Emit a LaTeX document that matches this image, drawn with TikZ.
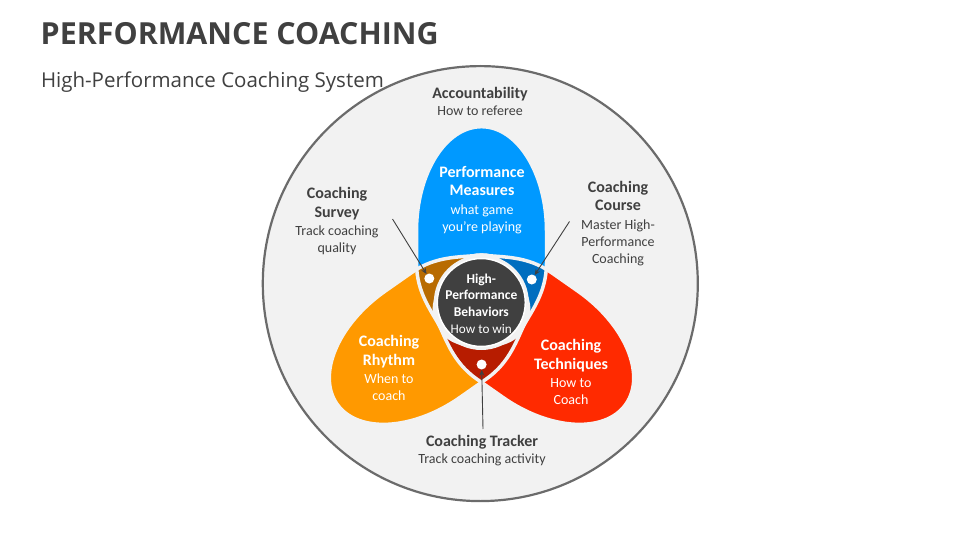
\documentclass[tikz,border=0pt]{standalone}
\usepackage{fontspec}
\setmainfont{Carlito}
\newfontfamily\osans{Open Sans}
\usetikzlibrary{arrows.meta}
\definecolor{bgc}{HTML}{F2F2F2}
\definecolor{ringc}{HTML}{6B6B6B}
\definecolor{txt}{HTML}{404040}
\definecolor{pblue}{HTML}{0099FF}
\definecolor{porange}{HTML}{FF9900}
\definecolor{pred}{HTML}{FF2A00}
\definecolor{obrown}{HTML}{B86B00}
\definecolor{oblue}{HTML}{006EBF}
\definecolor{ored}{HTML}{B71C00}
\definecolor{corec}{HTML}{404040}
\newcommand\hdf{\fontsize{16}{18.5}\selectfont\bfseries}
\newcommand\hdc{\fontsize{13.5}{16.7}\selectfont\bfseries}
\tikzset{
  petal/.style={insert path={(0,-43) .. controls (18,-43) and (33,-38) .. (39,-28)
     .. controls (50,-8) and (65,10) .. (65,40) -- (65,72)
     arc[start angle=0,end angle=180,x radius=65,y radius=104.3] -- (-65,40)
     .. controls (-65,10) and (-50,-8) .. (-39,-28)
     .. controls (-33,-38) and (-18,-43) .. (0,-43) -- cycle}},
  pb/.style={shift={(481.5,-303)}},
  po/.style={shift={(481.5,-303)},rotate=125},
  pr/.style={shift={(481.5,-303)},rotate=-125},
  gap/.style={draw=bgc,line width=3.5pt},
  lbl/.style={align=center,text=txt,inner sep=0pt,font=\fontsize{14}{17}\selectfont},
  wlbl/.style={align=center,text=white,inner sep=0pt,font=\fontsize{14}{17}\selectfont},
  dotn/.style={circle,fill=white,inner sep=0pt,minimum size=10pt},
  arr/.style={draw=txt,line width=0.9pt,-{Stealth[length=6pt,width=5pt]}}
}
\begin{document}
\begin{tikzpicture}[x=1pt,y=1pt]
\useasboundingbox (0,0) rectangle (960,-540);
\fill[white] (0,0) rectangle (960,-540);
% titles
\node[anchor=base west,inner sep=0pt,text=txt,font=\osans\fontsize{30.4}{36}\selectfont\bfseries] (title) at (40.5,-44.3) {PERFORMANCE COACHING};
\node[anchor=base west,inner sep=0pt,text=txt,font=\osans\fontsize{20.5}{24}\selectfont] (subtitle) at (40.8,-87.3) {High-Performance Coaching System};
% outer circle
\draw[ringc,fill=bgc,line width=2.2pt] (480.3,-283.6) circle (217.5);
% petals
\fill[pb,pblue,petal];
\fill[po,porange,petal];
\fill[pr,pred,petal];
\begin{scope}\clip[pb,petal]; \fill[po,obrown,petal]; \end{scope}
\begin{scope}\clip[pb,petal]; \fill[pr,oblue,petal]; \end{scope}
\begin{scope}\clip[po,petal]; \fill[pr,ored,petal]; \end{scope}
\begin{scope}\clip[pb,petal]; \clip[po,petal]; \fill[pr,bgc,petal]; \end{scope}
\path[pb,gap,petal];
\path[po,gap,petal];
\path[pr,gap,petal];
\fill[bgc] (481.3,-302.5) circle (47.5);
% core
\node[circle,fill=corec,draw=white,line width=1.5pt,minimum size=88pt,inner sep=0pt] (core) at (481.3,-302.5) {};
\node[align=center,text=white,inner sep=0pt,font=\fontsize{13.2}{16.7}\selectfont] (coretxt) at (481.3,-303.5)
      {{\hdc High-}\\{\hdc Performance}\\{\hdc Behaviors}\\How to win};
% petal texts
\node[wlbl] (pm) at (482,-200) {{\hdf Performance}\\[1.5pt]{\hdf Measures}\\[1.5pt]what game\\you’re playing};
\node[wlbl] (rh) at (389,-368) {{\hdf Coaching}\\[1.5pt]{\hdf Rhythm}\\[1.5pt]When to\\coach};
\node[wlbl] (te) at (571,-372) {{\hdf Coaching}\\[1.5pt]{\hdf Techniques}\\[1.5pt]How to\\Coach};
% outer labels
\node[lbl] (acc) at (480,-101.5) {{\hdf Accountability}\\How to referee};
\node[lbl] (sv) at (337,-221.5) {{\hdf Coaching}\\[1.5pt]{\hdf Survey}\\[1.5pt]Track coaching\\quality};
\node[lbl] (cc) at (618,-223.5) {{\hdf Coaching}\\[1.5pt]{\hdf Course}\\[1.5pt]Master High-\\Performance\\Coaching};
\node[lbl] (tr) at (482,-451) {{\hdf Coaching Tracker}\\Track coaching activity};
% dots
\node[dotn] (d1) at (429.3,-278.5) {};
\node[dotn] (d2) at (531.8,-279.5) {};
\node[dotn] (d3) at (481.6,-364.5) {};
% arrows
\coordinate (a1) at (392.5,-219);
\coordinate (a2) at (569.5,-221.5);
\coordinate (a3) at (483,-429);
\draw[arr] (a1) -- (d1);
\draw[arr] (a2) -- (d2);
\draw[arr] (a3) -- (d3);
\end{tikzpicture}
\end{document}
